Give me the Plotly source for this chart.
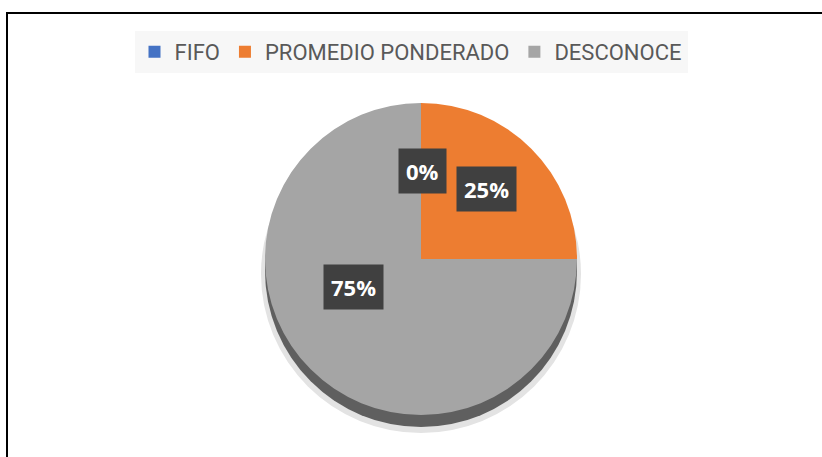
import plotly.graph_objects as go

categories = ["FIFO", "PROMEDIO PONDERADO", "DESCONOCE"]
values = [0, 25, 75]
colors = ["#4472C4", "#ED7D31", "#A5A5A5"]

W, H = 822, 457
total = sum(values)
pct_text = [f"{round(v / total * 100)}%" for v in values]

# label centres in pixels (style/layout only)
label_px = [(422, 171), (486, 189), (353, 287)]

CX, CY, R, DEPTH = 421, 259, 156, 12

fig = go.Figure()
fig.add_trace(go.Pie(
    labels=categories,
    values=values,
    marker=dict(colors=colors, line=dict(width=0)),
    sort=False,
    direction="clockwise",
    rotation=0,
    textinfo="none",
    hoverinfo="label+percent",
    domain=dict(x=[(CX - R) / W, (CX + R) / W],
                y=[1 - (CY + R) / H, 1 - (CY - R) / H]),
))

# soft shadow and dark "side" under the pie (decoration)
fig.add_shape(type="circle", xref="paper", yref="paper", layer="below",
              x0=(CX - R - 4) / W, x1=(CX + R + 4) / W,
              y0=1 - (CY + R + DEPTH + 6) / H, y1=1 - (CY - R + DEPTH) / H,
              fillcolor="#e3e3e3", line=dict(width=0))
fig.add_shape(type="circle", xref="paper", yref="paper", layer="below",
              x0=(CX - R) / W, x1=(CX + R) / W,
              y0=1 - (CY + R + DEPTH) / H, y1=1 - (CY - R + DEPTH) / H,
              fillcolor="#5f5f5f", line=dict(width=0))

for txt, (px, py) in zip(pct_text, label_px):
    fig.add_annotation(
        x=px / W, y=1 - py / H, xref="paper", yref="paper",
        text=f"<b>{txt}</b>", showarrow=False,
        font=dict(family="Open Sans, Liberation Sans, sans-serif", size=22, color="white"),
        bgcolor="#404040", borderpad=7,
    )

# chart border
fig.add_shape(type="rect", xref="paper", yref="paper",
              x0=7 / W, x1=1.02, y0=-0.02, y1=1 - 13 / H,
              line=dict(color="black", width=2), fillcolor="rgba(0,0,0,0)")

fig.update_layout(
    width=W, height=H,
    margin=dict(l=0, r=0, t=0, b=0),
    paper_bgcolor="white",
    plot_bgcolor="white",
    showlegend=True,
    legend=dict(
        orientation="h", x=0.5, xanchor="center", y=1 - 31 / H, yanchor="top",
        bgcolor="#f7f7f7",
        font=dict(family="Roboto, sans-serif", size=22, color="#595959"),
        itemsizing="constant", traceorder="normal",
    ),
)

fig.write_html("out.html", config={"displayModeBar": False},
               post_script="document.body.style.margin='0';")
